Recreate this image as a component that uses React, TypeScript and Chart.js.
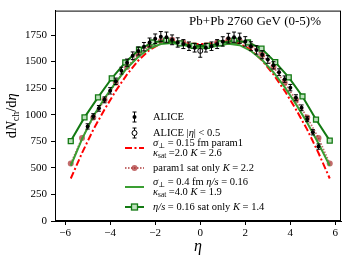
import React, { useEffect, useRef } from "react";
import { Chart, registerables } from "chart.js";

Chart.register(...registerables);

// ---------------- data ----------------
const aliceEta = [-5, -4.75, -4.5, -4.25, -4, -3.75, -3.5, -3.25, -3, -2.75, -2.5, -2.25, -2, -1.75, -1.5, -1.25, -1, -0.75, -0.5, -0.25,
  0.25, 0.5, 0.75, 1, 1.25, 1.5, 1.75, 2, 2.25, 2.5, 2.75, 3, 3.25, 3.5, 3.75, 4, 4.25, 4.5, 4.75, 5, 5.25];
const aliceVal = [890, 985, 1060, 1140, 1225, 1315, 1415, 1490, 1555, 1600, 1640, 1680, 1715, 1735, 1730, 1705, 1680, 1665, 1645, 1630,
  1630, 1645, 1665, 1690, 1720, 1730, 1720, 1690, 1645, 1610, 1565, 1520, 1465, 1400, 1335, 1255, 1160, 1065, 960, 835, 700];
const aliceErr = [25, 25, 27, 28, 30, 30, 32, 34, 36, 38, 40, 42, 45, 48, 48, 46, 44, 42, 40, 40,
  40, 40, 42, 44, 46, 48, 48, 45, 42, 40, 38, 36, 34, 32, 30, 30, 28, 27, 25, 25, 25];

const aliceMidEta = [0];
const aliceMidVal = [1601];
const aliceMidErr = [60];

const modelEta = [-5.75, -5.25, -4.75, -4.25, -3.75, -3.25, -2.75, -2.25, -1.75, -1.25, -0.75, -0.25,
  0.25, 0.75, 1.25, 1.75, 2.25, 2.75, 3.25, 3.75, 4.25, 4.75, 5.25, 5.75];
const redVal = [400, 640, 860, 1050, 1225, 1380, 1510, 1610, 1670, 1690, 1680, 1665,
  1665, 1680, 1690, 1670, 1610, 1510, 1380, 1225, 1050, 860, 640, 400];
const brownVal = [540, 780, 975, 1140, 1300, 1450, 1565, 1650, 1695, 1705, 1680, 1655,
  1655, 1680, 1705, 1695, 1650, 1565, 1450, 1300, 1140, 975, 780, 540];
const greenVal = [520, 770, 985, 1155, 1305, 1440, 1545, 1625, 1665, 1675, 1655, 1630,
  1625, 1650, 1668, 1655, 1600, 1515, 1400, 1260, 1100, 925, 730, 520];

const squareEta = [-5.75, -5.14, -4.54, -3.93, -3.33, -2.72, -2.12, -1.51, -0.91, -0.3,
  0.3, 0.91, 1.51, 2.12, 2.72, 3.33, 3.93, 4.54, 5.14, 5.75];
const squareVal = [752, 975, 1163, 1343, 1492, 1612, 1680, 1698, 1672, 1648,
  1648, 1672, 1698, 1680, 1622, 1495, 1352, 1172, 955, 756];

const xTicks = [-6, -4, -2, 0, 2, 4, 6];
const yTicks = [0, 250, 500, 750, 1000, 1250, 1500, 1750];

const FONT = "'Liberation Serif', 'DejaVu Serif', serif";
const RED = "#ff0000";
const BROWN = "rgba(170, 45, 45, 0.7)";
const GREEN = "#3a9e32";
const DGREEN = "#137a13";

type Seg = { t: string; i?: boolean; sub?: boolean };

function drawRich(ctx: CanvasRenderingContext2D, segs: Seg[], x: number, y: number, size: number, align: "left" | "center" | "right") {
  const fontFor = (s: Seg) => `${s.i ? "italic " : ""}${s.sub ? size * 0.7 : size}px ${FONT}`;
  let total = 0;
  for (const s of segs) {
    ctx.font = fontFor(s);
    total += ctx.measureText(s.t).width;
  }
  let cx = align === "left" ? x : align === "center" ? x - total / 2 : x - total;
  ctx.textBaseline = "middle";
  ctx.textAlign = "left";
  for (const s of segs) {
    ctx.font = fontFor(s);
    ctx.fillText(s.t, cx, s.sub ? y + size * 0.28 : y);
    cx += ctx.measureText(s.t).width;
  }
}

function errBar(ctx: CanvasRenderingContext2D, x: number, y1: number, y2: number) {
  ctx.beginPath();
  ctx.moveTo(x, y1);
  ctx.lineTo(x, y2);
  ctx.moveTo(x - 2, y1);
  ctx.lineTo(x + 2, y1);
  ctx.moveTo(x - 2, y2);
  ctx.lineTo(x + 2, y2);
  ctx.stroke();
}

const decorPlugin = {
  id: "decor",
  afterDatasetsDraw(chart: any) {
    const { ctx, chartArea, scales } = chart;
    const xs = scales.x, ys = scales.y;
    ctx.save();
    ctx.strokeStyle = "#000";
    ctx.lineWidth = 1;
    // error bars
    aliceEta.forEach((e, i) => {
      const px = xs.getPixelForValue(e);
      errBar(ctx, px, ys.getPixelForValue(aliceVal[i] - aliceErr[i]), ys.getPixelForValue(aliceVal[i] + aliceErr[i]));
    });
    aliceMidEta.forEach((e, i) => {
      const px = xs.getPixelForValue(e);
      errBar(ctx, px, ys.getPixelForValue(aliceMidVal[i] - aliceMidErr[i]), ys.getPixelForValue(aliceMidVal[i] + aliceMidErr[i]));
    });
    // frame
    ctx.strokeRect(chartArea.left + 0.5, chartArea.top + 0.5, chartArea.right - chartArea.left - 1, chartArea.bottom - chartArea.top - 1);

    // title
    ctx.fillStyle = "#000";
    drawRich(ctx, [{ t: "Pb+Pb 2760 GeV (0-5)%" }], chartArea.right - 20, chartArea.top + 11, 13, "right");

    // legend
    const hx0 = chartArea.left + 70, hx1 = chartArea.left + 89, hc = (hx0 + hx1) / 2;
    const tx = chartArea.left + 98;
    const fs = 10.5;
    let y = 117;
    // ALICE
    ctx.strokeStyle = "#000";
    errBar(ctx, hc, y - 5, y + 5);
    ctx.beginPath(); ctx.arc(hc, y, 2, 0, Math.PI * 2); ctx.fillStyle = "#000"; ctx.fill();
    drawRich(ctx, [{ t: "ALICE" }], tx, y, fs, "left");
    y = 133;
    errBar(ctx, hc, y - 5, y + 5);
    ctx.beginPath(); ctx.arc(hc, y, 2.5, 0, Math.PI * 2); ctx.fillStyle = "#fff"; ctx.fill(); ctx.stroke();
    ctx.fillStyle = "#000";
    drawRich(ctx, [{ t: "ALICE |" }, { t: "η", i: true }, { t: "| < 0.5" }], tx, y, fs, "left");
    // red
    y = 148;
    ctx.save(); ctx.strokeStyle = RED; ctx.lineWidth = 2; ctx.setLineDash([7, 2.5, 2, 2.5]);
    ctx.beginPath(); ctx.moveTo(hx0, y); ctx.lineTo(hx1, y); ctx.stroke(); ctx.restore();
    drawRich(ctx, [{ t: "σ", i: true }, { t: "⊥", sub: true }, { t: " = 0.15 fm param1" }], tx, y - 4.8, fs, "left");
    drawRich(ctx, [{ t: "κ", i: true }, { t: "sat", sub: true }, { t: " =2.0 " }, { t: "K", i: true }, { t: " = 2.6" }], tx, y + 4.8, fs, "left");
    // brown
    y = 168;
    ctx.save(); ctx.strokeStyle = BROWN; ctx.lineWidth = 1.8; ctx.setLineDash([1.5, 1.5]);
    ctx.beginPath(); ctx.moveTo(hx0, y); ctx.lineTo(hx1, y); ctx.stroke(); ctx.restore();
    ctx.beginPath(); ctx.arc(hc, y, 3, 0, Math.PI * 2); ctx.fillStyle = BROWN; ctx.fill();
    ctx.fillStyle = "#000";
    drawRich(ctx, [{ t: "param1 sat only " }, { t: "K", i: true }, { t: " = 2.2" }], tx, y, fs, "left");
    // green solid
    y = 187;
    ctx.save(); ctx.strokeStyle = GREEN; ctx.lineWidth = 2;
    ctx.beginPath(); ctx.moveTo(hx0, y); ctx.lineTo(hx1, y); ctx.stroke(); ctx.restore();
    drawRich(ctx, [{ t: "σ", i: true }, { t: "⊥", sub: true }, { t: " = 0.4 fm " }, { t: "η/s", i: true }, { t: " = 0.16" }], tx, y - 4.8, fs, "left");
    drawRich(ctx, [{ t: "κ", i: true }, { t: "sat", sub: true }, { t: " =4.0 " }, { t: "K", i: true }, { t: " = 1.9" }], tx, y + 4.8, fs, "left");
    // green squares
    y = 207;
    ctx.save(); ctx.strokeStyle = DGREEN; ctx.lineWidth = 2;
    ctx.beginPath(); ctx.moveTo(hx0, y); ctx.lineTo(hx1, y); ctx.stroke();
    ctx.fillStyle = "rgba(190,225,190,1)"; ctx.fillRect(hc - 3, y - 3, 6, 6);
    ctx.lineWidth = 1.3; ctx.strokeRect(hc - 3, y - 3, 6, 6); ctx.restore();
    ctx.fillStyle = "#000";
    drawRich(ctx, [{ t: "η/s", i: true }, { t: " = 0.16 sat only " }, { t: "K", i: true }, { t: " = 1.4" }], tx, y, fs, "left");

    // axis titles
    drawRich(ctx, [{ t: "η", i: true }], (chartArea.left + chartArea.right) / 2, 247, 16, "center");
    ctx.save();
    ctx.translate(12, (chartArea.top + chartArea.bottom) / 2);
    ctx.rotate(-Math.PI / 2);
    drawRich(ctx, [{ t: "d" }, { t: "N", i: true }, { t: "ch", sub: true }, { t: "/d" }, { t: "η", i: true }], 0, 0, 14.5, "center");
    ctx.restore();
    ctx.restore();
  },
};

const pts = (xs: number[], ys: number[]) => xs.map((x, i) => ({ x, y: ys[i] }));

export default function App() {
  const ref = useRef<HTMLCanvasElement | null>(null);
  useEffect(() => {
    document.body.style.margin = "0";
    const canvas = ref.current!;
    const chart = new Chart(canvas, {
      type: "scatter",
      data: {
        datasets: [
          { data: pts(aliceEta, aliceVal), pointRadius: 2, pointBackgroundColor: "#000", pointBorderColor: "#000", pointBorderWidth: 0, showLine: false },
          { data: pts(aliceMidEta, aliceMidVal), pointRadius: 2.5, pointBackgroundColor: "#fff", pointBorderColor: "#000", pointBorderWidth: 1, showLine: false },
          { data: pts(squareEta, squareVal), showLine: true, borderColor: DGREEN, borderWidth: 2, pointStyle: "rect", pointRadius: 3.5, pointBackgroundColor: "rgba(190,225,190,1)", pointBorderColor: DGREEN, pointBorderWidth: 1.3 },
          { data: pts(modelEta, greenVal), showLine: true, borderColor: GREEN, borderWidth: 2, pointRadius: 0 },
          { data: pts(modelEta, brownVal), showLine: true, borderColor: BROWN, borderWidth: 1.8, borderDash: [1.5, 1.5], pointRadius: 3, pointBackgroundColor: BROWN, pointBorderWidth: 0 },
          { data: pts(modelEta, redVal), showLine: true, borderColor: RED, borderWidth: 2, borderDash: [7, 2.5, 2, 2.5], pointRadius: 0 },
        ],
      },
      options: {
        animation: false,
        responsive: false,
        devicePixelRatio: 1,
        layout: { padding: { top: 8, right: 8, left: 0, bottom: 0 } },
        plugins: { legend: { display: false }, tooltip: { enabled: false }, title: { display: false } },
        scales: {
          x: {
            type: "linear",
            min: -6.45,
            max: 6.25,
            afterBuildTicks: (axis: any) => { axis.ticks = xTicks.map((v) => ({ value: v })); },
            afterFit: (axis: any) => { axis.height = 41; },
            grid: { drawOnChartArea: false, drawTicks: true, tickLength: 4, color: "#000" },
            border: { display: true, color: "#000" },
            ticks: { color: "#000", padding: 2, maxRotation: 0, font: { family: FONT, size: 11 }, callback: (v: any) => (v < 0 ? "−" + Math.abs(v) : String(v)) },
          },
          y: {
            type: "linear",
            min: 0,
            max: 1980,
            afterBuildTicks: (axis: any) => { axis.ticks = yTicks.map((v) => ({ value: v })); },
            afterFit: (axis: any) => { axis.width = 55; },
            grid: { drawOnChartArea: false, drawTicks: true, tickLength: 4, color: "#000" },
            border: { display: true, color: "#000" },
            ticks: { color: "#000", padding: 4, font: { family: FONT, size: 11 }, callback: (v: any) => String(v) },
          },
        },
      },
      plugins: [decorPlugin],
    });
    return () => chart.destroy();
  }, []);
  return (
    <div style={{ width: 349, height: 262 }}>
      <canvas ref={ref} width={349} height={262} />
    </div>
  );
}
